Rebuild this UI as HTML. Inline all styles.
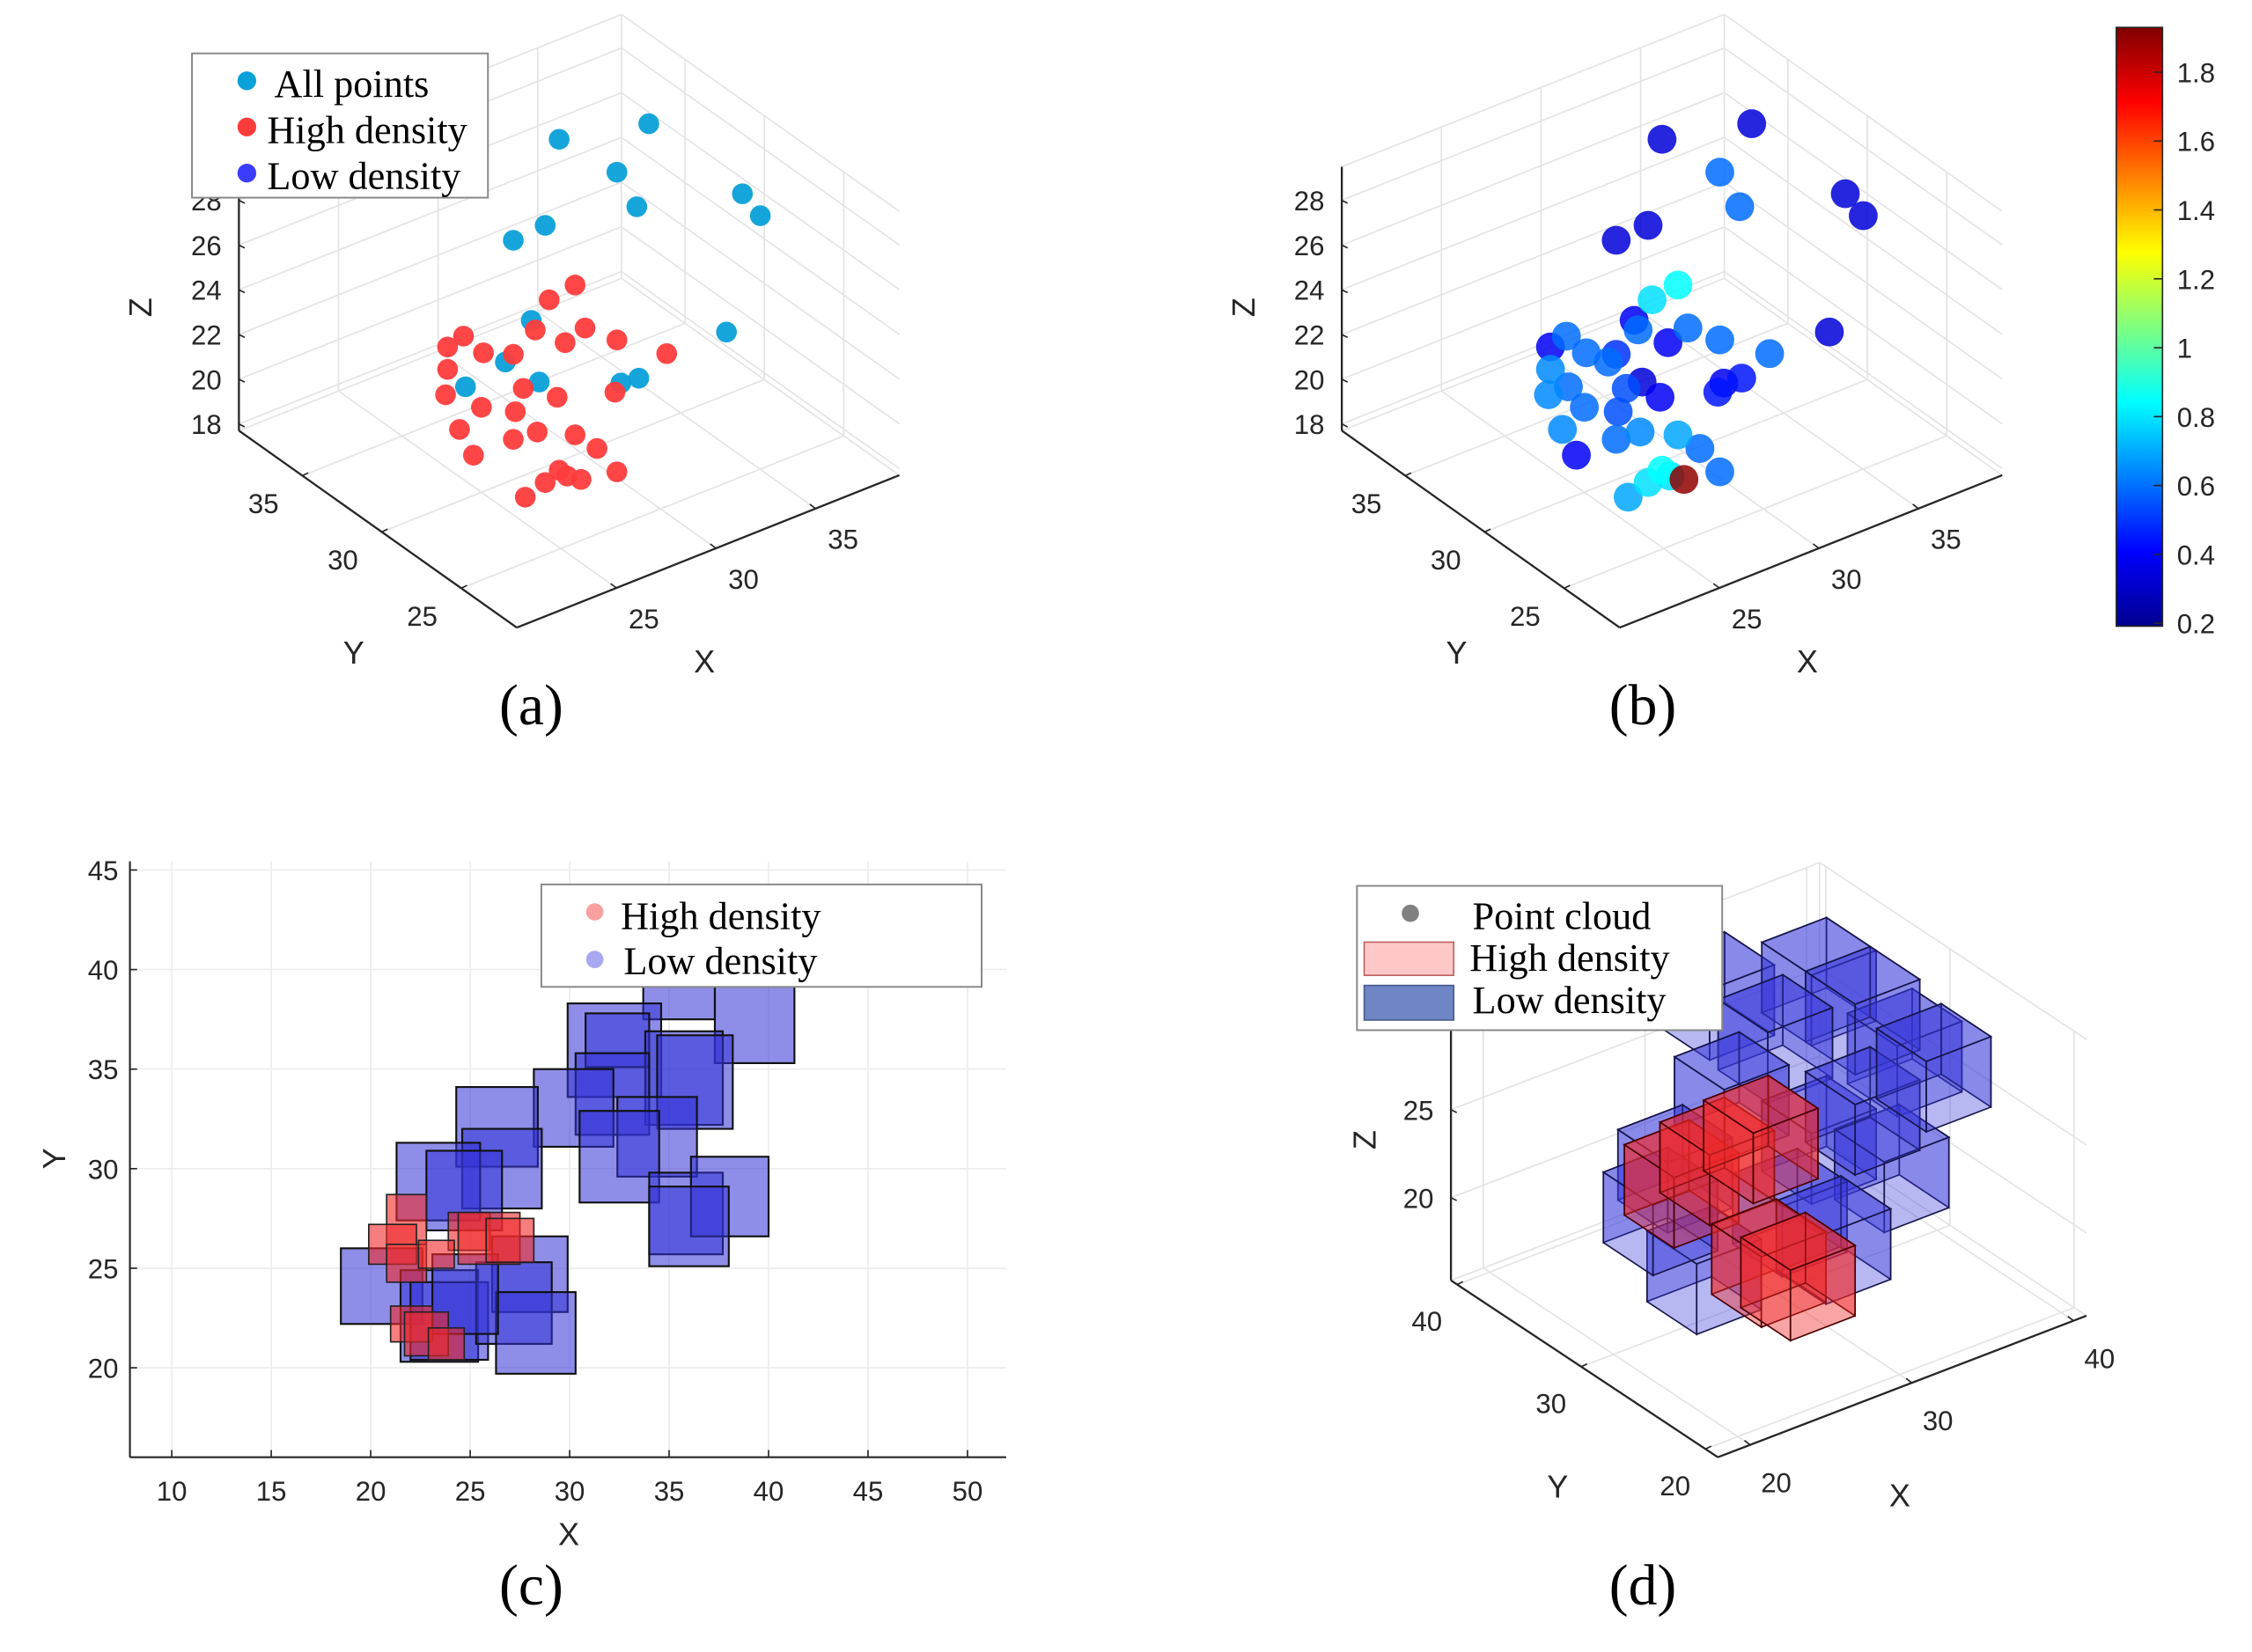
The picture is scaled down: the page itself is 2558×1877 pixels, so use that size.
<!DOCTYPE html>
<html><head><meta charset="utf-8"><style>
html,body{margin:0;padding:0;background:#fff;}
svg{display:block;}
.tk{font-family:"Liberation Sans",Arial,sans-serif;font-size:19px;fill:#262626;}
.lg{font-family:"Liberation Serif",serif;font-size:27px;fill:#000;}
.cap{font-family:"Liberation Serif",serif;font-size:40px;fill:#000;}
.al{font-family:"Liberation Sans",Arial,sans-serif;font-size:22px;fill:#262626;}
</style></head><body>
<svg id="fig" xmlns="http://www.w3.org/2000/svg" width="2558" height="1877" viewBox="0 0 1560 1145" preserveAspectRatio="none">
<defs>
<linearGradient id="jet" x1="0" y1="1" x2="0" y2="0">
<stop offset="0" stop-color="#00008f"/><stop offset="0.125" stop-color="#0000ff"/><stop offset="0.375" stop-color="#00ffff"/><stop offset="0.625" stop-color="#ffff00"/><stop offset="0.875" stop-color="#ff0000"/><stop offset="1" stop-color="#800000"/>
</linearGradient>
</defs>
<g id="pa"></g>
<g id="pb"></g>
<g id="pc"></g>
<g id="pd"></g>
<text class="cap" x="368" y="502" text-anchor="middle">(a)</text>
<text class="cap" x="1138" y="502" text-anchor="middle">(b)</text>
<text class="cap" x="368" y="1112" text-anchor="middle">(c)</text>
<text class="cap" x="1138" y="1112" text-anchor="middle">(d)</text>
</svg>
<script>
// ===== Panel (a)/(b) scatter data =====
const allX = [28.9,33.4,31.8,32.8,38.1,39.0,28.2,26.6,27.5,26.2,24.2,27.9,32.0,32.9,37.3];
const allY = [30,30,30,30,30,30,30,30,30,30,30,30,30,30,30];
const allZ = [32.1,31.2,29.6,27.7,26.4,25.1,28.5,28.4,24.5,23.1,22.7,21.6,20.1,20.0,20.5];
const highX = [29.7,28.4,27.7,30.2,29.2,31.8,34.3,24.1,25.1,23.3,26.6,23.3,23.2,25.0,27.1,28.8,31.7,23.9,26.7,27.8,26.6,29.7,30.8,24.6,28.9,30.0,28.2,27.2,31.8,29.3];
const highY = [30,30,30,30,30,30,30,30,30,30,30,30,30,30,30,30,30,30,30,30,30,30,30,30,30,30,30,30,30,30];
const highZ = [25.3,25.1,24.0,23.2,22.9,22.1,20.6,25.0,23.9,24.8,23.3,23.8,22.7,21.5,21.6,20.6,19.8,20.9,20.7,19.4,19.5,18.6,17.6,19.5,17.3,16.5,17.0,16.7,16.2,16.9];
const allDensity = [0.35,0.35,0.6,0.6,0.35,0.35,0.35,0.35,0.4,0.6,0.6,0.35,0.4,0.45,0.35];
const highDensity = [0.85,0.8,0.6,0.6,0.4,0.6,0.6,0.6,0.6,0.4,0.5,0.65,0.65,0.6,0.55,0.4,0.45,0.65,0.55,0.65,0.6,0.7,0.6,0.4,0.85,1.9,0.8,0.7,0.6,0.8];
const xTicksAB = [25,30,35];
const yTicksAB = [25,30,35];
const zTicksAB = [18,20,22,24,26,28];
const cbTicks = [0.2,0.4,0.6,0.8,1,1.2,1.4,1.6,1.8];

// ===== Panel (c) rectangles =====
const blueX0 = [33.7,37.3,29.9,30.8,33.8,34.4,30.3,28.2,32.4,30.5,34.0,36.1,34.0,24.3,24.6,21.3,22.8,26.1,18.5,21.5,22.0,25.3,26.3,23.1];
const blueX1 = [37.3,41.3,34.6,34.0,37.7,38.2,34.0,32.2,36.4,34.5,37.7,40.0,38.0,28.4,28.6,25.5,26.6,29.9,22.6,25.4,25.9,29.1,30.3,26.4];
const blueY0 = [37.5,35.3,33.6,35.1,32.2,32.0,31.7,31.1,29.6,28.3,25.7,26.6,25.1,30.1,28.0,27.4,26.9,22.8,22.2,20.3,20.4,21.2,19.7,21.7];
const blueY1 = [41.6,40.9,38.3,37.8,36.9,36.7,35.8,35.0,33.6,32.9,29.8,30.6,29.1,34.1,32.0,31.3,30.9,26.6,26.0,24.9,24.3,25.3,23.8,25.7];
const redX0 = [20.8,19.9,20.8,23.9,24.4,25.8,21.0,21.7,22.9,22.4];
const redX1 = [22.8,22.3,22.8,26.0,27.5,28.2,23.1,23.9,24.7,24.2];
const redY0 = [26.2,25.2,24.3,25.9,25.2,25.3,21.3,20.6,20.4,25.0];
const redY1 = [28.7,27.2,26.2,27.8,27.8,27.5,23.1,22.8,22.0,26.4];
const xTicksC = [10,15,20,25,30,35,40,45,50];
const yTicksC = [20,25,30,35,40,45];

// ===== Panel (d) cubes (centers) =====
const lowCX = [26.4,32.7,38.0,35.4,30.0,27.3,23.8,32.7,37.2,30.9,25.6,33.6,35.4,39.8,22.9];
const lowCY = [30,30,30,30,30,30,30,30,30,30,30,30,30,30,30];
const lowCZ = [33.4,32.0,26.1,29.4,29.7,27.4,24.5,23.0,19.8,19.5,18.1,17.0,23.7,24.6,22.4];
const highCX = [24.2,26.4,29.6,31.4,29.1];
const highCY = [30,30,30,30,30];
const highCZ = [23.5,24.0,17.1,15.7,24.3];
const cubeSize = 4;
const xTicksD = [20,30,40];
const yTicksD = [20,30,40];
const zTicksD = [20,25];

const NS = "http://www.w3.org/2000/svg";
function mk(tag, attrs, parent){
  const e = document.createElementNS(NS, tag);
  for (const k in attrs) e.setAttribute(k, attrs[k]);
  parent.appendChild(e);
  return e;
}
function jet(v, lo, hi){
  const t = Math.max(0, Math.min(1, (v-lo)/(hi-lo)));
  const c = u => Math.round(255*Math.max(0, Math.min(1, 1.5-Math.abs(u))));
  return `rgb(${c(4*t-3)},${c(4*t-2)},${c(4*t-1)})`;
}

function axes3D(g, P, lim, ticks, labels){
  const [x0,x1,y0,y1,z0,z1] = lim;
  const grid = mk('g', {}, g);
  
  
  const line = (a,b,cls) => mk('line', {x1:a[0],y1:a[1],x2:b[0],y2:b[1],stroke:cls?'#262626':'#e3e3e3','stroke-width':cls?1.4:1}, grid);
  ticks.x.forEach(v=>{ line(P(v,y0,z0),P(v,y1,z0)); line(P(v,y1,z0),P(v,y1,z1)); });
  ticks.y.forEach(v=>{ line(P(x0,v,z0),P(x1,v,z0)); line(P(x1,v,z0),P(x1,v,z1)); });
  ticks.z.forEach(v=>{ line(P(x0,y1,v),P(x1,y1,v)); line(P(x1,y1,v),P(x1,y0,v)); });
  line(P(x1,y1,z0),P(x1,y1,z1)); line(P(x0,y1,z1),P(x1,y1,z1)); line(P(x1,y1,z1),P(x1,y0,z1));
  line(P(x0,y1,z0),P(x1,y1,z0)); line(P(x1,y1,z0),P(x1,y0,z0));
  line(P(x0,y0,z0),P(x1,y0,z0),1);
  line(P(x0,y0,z0),P(x0,y1,z0),1);
  line(P(x0,y1,z0),P(x0,y1,z1),1);
  ticks.x.forEach(v=>{
    const p=P(v,y0,z0);
    mk('line',{x1:p[0],y1:p[1],x2:p[0]-4,y2:p[1]-3,stroke:'#262626'},g);
    const t=mk('text',{x:p[0]+labels.xo[0],y:p[1]+labels.xo[1],class:'tk','text-anchor':'middle'},g);
    t.textContent=v;
    
    
  });
  ticks.y.forEach(v=>{
    const p=P(x0,v,z0);
    mk('line',{x1:p[0],y1:p[1],x2:p[0]+4,y2:p[1]-2,stroke:'#262626'},g);
    const t=mk('text',{x:p[0]+labels.yo[0],y:p[1]+labels.yo[1],class:'tk','text-anchor':'middle'},g);
    t.textContent=v;
    
    
  });
  ticks.z.forEach(v=>{
    const p=P(x0,y1,v);
    mk('line',{x1:p[0],y1:p[1],x2:p[0]+4,y2:p[1]+2,stroke:'#262626'},g);
    const t=mk('text',{x:p[0]-12,y:p[1]+7,class:'tk','text-anchor':'end'},g);
    t.textContent=v;
    
    
  });
  [['X',labels.X],['Y',labels.Y]].forEach(([s,p])=>{
    const t=mk('text',{x:p[0],y:p[1],class:'al','text-anchor':'middle'},g);
    t.textContent=s;
    
    
  });
  const tz=mk('text',{x:labels.Z[0],y:labels.Z[1],class:'al','text-anchor':'middle',transform:`rotate(-90 ${labels.Z[0]} ${labels.Z[1]})`},g);
  tz.textContent='Z';
  
  
}

function makeP(ox){
  return (x,y,z)=>[ox + (x-20)*13.8 - (y-21.5)*11, 435 - (x-20)*5.5 - (y-21.5)*7.8 - (z-17.7)*15.5];
}
const limAB=[20,39.2,21.5,39,17.7,29.5];
function drawScatterPanel(gid, ox, colored){
  const g=document.getElementById(gid);
  const P=makeP(ox);
  axes3D(g,P,limAB,{x:xTicksAB,y:yTicksAB,z:zTicksAB},{xo:[19,28],yo:[-27,26],X:[ox+130,466],Y:[ox-113,460],Z:[ox-253,213]});
  const pts=[];
  allX.forEach((v,i)=>pts.push({x:v,y:allY[i],z:allZ[i],d:allDensity[i],c:'#0aa0d8',n:'all-point'}));
  highX.forEach((v,i)=>pts.push({x:v,y:highY[i],z:highZ[i],d:highDensity[i],c:'#ff3c3c',n:'high-density-point'}));
  if(colored) pts.sort((a,b)=>a.d-b.d);
  pts.forEach(p=>{
    const s=P(p.x,p.y,p.z);
    const c=mk('circle',{cx:s[0],cy:s[1],r:colored?10:7.2,fill:colored?jet(p.d,0.2,1.93):p.c,'fill-opacity':colored?0.85:0.95},g);
    
    
  });
}
drawScatterPanel('pa',358,false);
drawScatterPanel('pb',1122,true);

(function(){
  const g=document.getElementById('pa');
  const lg=mk('g',{},g);
  
  
  mk('rect',{x:133,y:37,width:205,height:100,fill:'#fff',stroke:'#888','stroke-width':1.2},lg);
  [['All points','#0aa0d8',56],['High density','#ff3c3c',88],['Low density','#3c3cff',120]].forEach(([t,c,y])=>{
    const e=mk('g',{},lg);
    
    
    mk('circle',{cx:171,cy:y,r:6.5,fill:c},e);
    const tx=mk('text',{x:t==='All points'?190:185,y:y+11,class:'lg'},e);
    tx.textContent=t;
  });
})();

(function(){
  const g=document.getElementById('pb');
  const cb=mk('g',{},g);
  
  
  mk('rect',{x:1466,y:19,width:32,height:415,fill:'url(#jet)',stroke:'#262626','stroke-width':1},cb);
  const cy=v=>432-(v-0.2)*238.75;
  cbTicks.forEach(v=>{
    const y=cy(v);
    mk('line',{x1:1492,y1:y,x2:1498,y2:y,stroke:'#262626'},cb);
    const t=mk('text',{x:1508,y:y+7,class:'tk'},cb);
    t.textContent=v;
    
    
  });
})();

(function(){
  const g=document.getElementById('pc');
  const X=v=>119+(v-10)*13.78;
  const Y=v=>603+(45-v)*13.8;
  const L=90,R=697,T=597,B=1010;
  xTicksC.forEach(v=>{
    mk('line',{x1:X(v),y1:T,x2:X(v),y2:B,stroke:'#ececec'},g);
    mk('line',{x1:X(v),y1:B,x2:X(v),y2:B-5,stroke:'#262626'},g);
    const t=mk('text',{x:X(v),y:B+30,class:'tk','text-anchor':'middle'},g);
    t.textContent=v;
    
    
  });
  yTicksC.forEach(v=>{
    mk('line',{x1:L,y1:Y(v),x2:R,y2:Y(v),stroke:'#ececec'},g);
    mk('line',{x1:L,y1:Y(v),x2:L+5,y2:Y(v),stroke:'#262626'},g);
    const t=mk('text',{x:L-8,y:Y(v)+7,class:'tk','text-anchor':'end'},g);
    t.textContent=v;
    
    
  });
  mk('line',{x1:L,y1:T,x2:L,y2:B,stroke:'#262626','stroke-width':1.3},g);
  mk('line',{x1:L,y1:B,x2:R,y2:B,stroke:'#262626','stroke-width':1.3},g);
  blueX0.forEach((v,i)=>{
    const r=mk('rect',{x:X(v),y:Y(blueY1[i]),width:X(blueX1[i])-X(v),height:Y(blueY0[i])-Y(blueY1[i]),fill:'rgba(50,50,215,0.55)',stroke:'#111','stroke-width':1.3},g);
    
    
  });
  redX0.forEach((v,i)=>{
    const r=mk('rect',{x:X(v),y:Y(redY1[i]),width:X(redX1[i])-X(v),height:Y(redY0[i])-Y(redY1[i]),fill:'rgba(240,40,40,0.6)',stroke:'#222','stroke-width':1},g);
    
    
  });
  const tx=mk('text',{x:394,y:1071,class:'al','text-anchor':'middle'},g); tx.textContent='X';
  
  
  const ty=mk('text',{x:45,y:803,class:'al','text-anchor':'middle',transform:'rotate(-90 45 803)'},g); ty.textContent='Y';
  
  
  const lg=mk('g',{},g);
  
  
  mk('rect',{x:375,y:613,width:305,height:71,fill:'#fff',stroke:'#888','stroke-width':1.2},lg);
  mk('circle',{cx:412,cy:632,r:6,fill:'#f8a0a0'},lg);
  mk('circle',{cx:412,cy:665,r:6,fill:'#a8a8f0'},lg);
  const a=mk('text',{x:430,y:644,class:'lg'},lg); a.textContent='High density';
  const b=mk('text',{x:432,y:675,class:'lg'},lg); b.textContent='Low density';
})();

(function(){
  const g=document.getElementById('pd');
  const P=(x,y,z)=>[1190+(x-18)*11.2-(y-19)*8.6, 1010-(x-18)*4.3-(y-19)*5.7-(z-15.3)*12.2];
  axes3D(g,P,[18,40.8,19,40.5,15.3,31],{x:xTicksD,y:yTicksD,z:zTicksD},{xo:[18,33],yo:[-21,32],X:[1316,1044],Y:[1079,1038],Z:[953,790]});
  function cube(cx,cy,cz,fill,edge,name){
    const h=cubeSize/2;
    const x0=cx-h,x1=cx+h,y0=cy-h,y1=cy+h,z0=cz-h,z1=cz+h;
    const cg=mk('g',{},g);
    
    
    const poly=pts=>mk('polygon',{points:pts.map(p=>P(...p).join(',')).join(' '),fill:fill,stroke:edge,'stroke-width':1},cg);
    poly([[x0,y1,z0],[x1,y1,z0],[x1,y1,z1],[x0,y1,z1]]);
    poly([[x1,y0,z0],[x1,y1,z0],[x1,y1,z1],[x1,y0,z1]]);
    poly([[x0,y0,z1],[x1,y0,z1],[x1,y1,z1],[x0,y1,z1]]);
    poly([[x0,y0,z0],[x0,y1,z0],[x0,y1,z1],[x0,y0,z1]]);
    poly([[x0,y0,z0],[x1,y0,z0],[x1,y0,z1],[x0,y0,z1]]);
  }
  lowCX.forEach((v,i)=>cube(v,lowCY[i],lowCZ[i],'rgba(55,55,220,0.36)','#15154a','low-density-cube'));
  highCX.forEach((v,i)=>cube(v,highCY[i],highCZ[i],'rgba(240,40,40,0.42)','#4a0000','high-density-cube'));
  const lg=mk('g',{},g);
  
  
  mk('rect',{x:940,y:614,width:253,height:100,fill:'#fff',stroke:'#888','stroke-width':1.2},lg);
  mk('circle',{cx:977,cy:633,r:6,fill:'#808080'},lg);
  mk('rect',{x:945,y:653,width:62,height:23,fill:'#ffc8c8',stroke:'#c06060'},lg);
  mk('rect',{x:945,y:683,width:62,height:24,fill:'#6f86c6',stroke:'#4a5a90'},lg);
  [['Point cloud',1020,644],['High density',1018,673],['Low density',1020,702]].forEach(([s,x,y])=>{
    const t=mk('text',{x:x,y:y,class:'lg'},lg); t.textContent=s;
    
    
  });
})();
</script>
</body></html>
